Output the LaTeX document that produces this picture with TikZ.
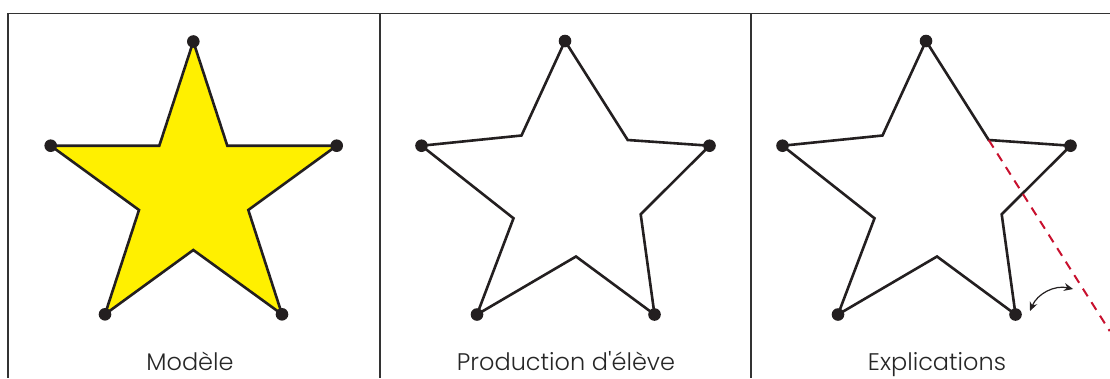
\documentclass[tikz,border=0pt]{standalone}
\usepackage{fontspec}
\setmainfont{Poppins Light}
\usetikzlibrary{calc, arrows.meta}
\definecolor{staryellow}{RGB}{255,240,0}
\definecolor{dashred}{RGB}{200,16,46}
\definecolor{ink}{RGB}{35,31,32}
\tikzset{
  frame/.style={line width=1.6pt, black!80},
  outline/.style={line width=2.6pt, ink},
  dot/.style={ink},
  caption/.style={anchor=base, text=black!85, font=\fontsize{24}{28}\selectfont},
}
\begin{document}
\begin{tikzpicture}[x=1pt, y=-1pt]
        \useasboundingbox (0,0) rectangle (1110,378);
        % frame of the three panels
        \draw[frame] (1110,13.5) -- (8,13.5) -- (8,378);
        \draw[frame] (380,13.5) -- (380,378);
        \draw[frame] (751,13.5) -- (751,378);
        % model
        \def\model{
            (193.3,41.5) -- (227.3,145.7) -- (336.7,145.7) -- (248.3,210) -- (282,314.3)
            -- (193.3,250) -- (105,314.3) -- (139,210) -- (50.7,145.7) -- (159.3,145.7) -- cycle
        }
        \draw[outline, fill=staryellow] \model;
        \foreach \p in {(193.3,41.5),(336.7,145.7),(282,314.3),(105,314.3),(50.7,145.7)} {
            \fill[dot] \p circle (6.3pt);
        }
        % pupil's star, drawn twice
        \def\pupil{
            (565,41) -- (627.7,140) -- (709.5,145.7) -- (640.7,214.3) -- (654.5,314.5)
            -- (576,256.5) -- (477,314.5) -- (513.5,218.3) -- (421.5,145.7) -- (521.5,135.5) -- cycle
        }
        \foreach \s in {0,361} {
            \begin{scope}[shift={(\s,0)}]
                \draw[outline] \pupil;
                \foreach \p in {(565,41),(709.5,145.7),(654.5,314.5),(477,314.5),(421.5,145.7)} {
                    \fill[dot] \p circle (6.3pt);
                }
            \end{scope}
        }
        % explanation
        \coordinate (top) at (926,41);
        \coordinate (inner) at (988.7,140);
        \coordinate (from) at (1030,311);
        \coordinate (to) at (1073,289);
        \draw[dashred, line width=2pt, dash pattern=on 9pt off 7pt] (inner) -- ($(top)!2.93!(inner)$);
        \draw[{Stealth[length=9pt,width=8pt,inset=3pt]}-{Stealth[length=9pt,width=8pt,inset=3pt]}, line width=1.2pt, ink]
            (from) to[bend left=40] (to);
        \node[caption] (model) at (190,370) {Modèle};
        \node[caption] (production) at (566,370) {Production d\textquotesingle élève};
        \node[caption] (explain) at (937,370) {Explications};
\end{tikzpicture}
\end{document}
